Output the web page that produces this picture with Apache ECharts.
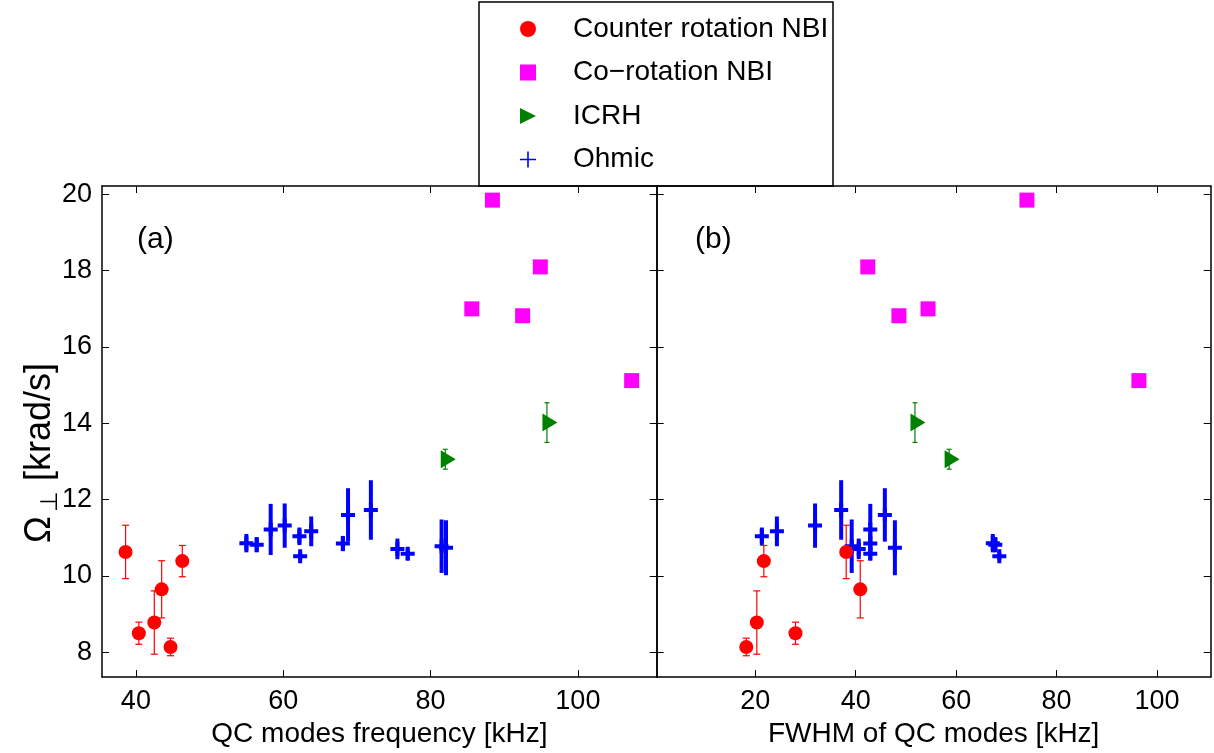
<!DOCTYPE html>
<html>
<head>
<meta charset="utf-8">
<script src="https://cdn.jsdelivr.net/npm/echarts@6/dist/echarts.min.js"></script>
<style>
  html, body { margin: 0; padding: 0; background: #fff; }
  #main { width: 1214px; height: 753px; }
</style>
</head>
<body>
<div id="main"></div>
<script>
// data
// counter rotation NBI
let ctrFreq = [38.6, 40.4, 42.5, 43.5, 44.7, 46.3]
let ctrFwhm = [38.1, 28.0, 20.3, 40.9, 18.2, 21.7]
let ctrOmega = [10.63, 8.50, 8.78, 9.65, 8.14, 10.39]
let ctrErr = [0.70, 0.29, 0.83, 0.75, 0.23, 0.41]
// co-rotation NBI
let coFreq = [88.4, 94.9, 85.6, 92.5, 107.3]
let coFwhm = [74.1, 42.4, 54.4, 48.6, 96.4]
let coOmega = [19.85, 18.10, 17.00, 16.82, 15.12]
// ICRH
let icrhFreq = [82.0, 95.8]
let icrhFwhm = [58.6, 51.8]
let icrhOmega = [13.06, 14.02]
let icrhErr = [0.26, 0.52]
// Ohmic
let ohmFreq = [55.0, 56.4, 58.3, 60.2, 62.2, 62.3, 63.8, 68.1, 68.8, 71.9, 75.5, 76.9, 81.5, 82.1]
let ohmFwhm = [67.3, 67.8, 42.9, 31.9, 21.3, 68.6, 24.3, 42.9, 45.8, 37.1, 40.6, 42.9, 39.2, 47.8]
let ohmOmega = [10.86, 10.82, 11.22, 11.32, 11.04, 10.52, 11.17, 10.85, 11.60, 11.73, 10.71, 10.58, 10.78, 10.74]
let ohmErr = [0.24, 0.20, 0.67, 0.58, 0.23, 0.10, 0.39, 0.20, 0.70, 0.78, 0.27, 0.16, 0.70, 0.72]

let freqTicks = [40, 60, 80, 100]
let fwhmTicks = [20, 40, 60, 80, 100]
let omegaTicks = [8, 10, 12, 14, 16, 18, 20]

const FONT = 'Liberation Sans'
const RED = '#ff0000', MAG = '#ff00ff', GRN = '#008000', BLU = '#0000ff'
const PLUS_THICK = 'path://M5,0H9V5H14V9H9V14H5V9H0V5H5Z'
const PLUS_THIN = 'path://M6.3,0H7.7V6.3H14V7.7H7.7V14H6.3V7.7H0V6.3H6.3Z'
const TRI = 'path://M0,0L1,0.5L0,1Z'
const SQ = 'path://M0,0H10V10H0Z'

function pts(xs, ys) { return xs.map((x, i) => [x, ys[i]]) }
function errPts(xs, ys, es) { return xs.map((x, i) => [x, ys[i], es[i]]) }

function errBars(color, lw, cap) {
  return function (params, api) {
    let x = api.value(0), y = api.value(1), e = api.value(2)
    let p1 = api.coord([x, y + e]), p2 = api.coord([x, y - e])
    let st = { stroke: color, lineWidth: lw }
    let ch = [{ type: 'line', shape: { x1: p1[0], y1: p1[1], x2: p2[0], y2: p2[1] }, style: st }]
    if (cap) {
      ch.push({ type: 'line', shape: { x1: p1[0] - cap, y1: p1[1], x2: p1[0] + cap, y2: p1[1] }, style: st })
      ch.push({ type: 'line', shape: { x1: p2[0] - cap, y1: p2[1], x2: p2[0] + cap, y2: p2[1] }, style: st })
    }
    return { type: 'group', children: ch }
  }
}

function xAx(grid, min, max, ticks, pos, name) {
  let lab = pos === 'bottom'
  return {
    type: 'value', gridIndex: grid, position: pos, min: min, max: max,
    name: lab ? name : '', nameLocation: 'middle', nameGap: 42,
    nameTextStyle: { fontFamily: FONT, fontSize: 28, color: '#000' },
    axisLine: { show: true, onZero: false, lineStyle: { color: '#000', width: 1.5 } },
    axisTick: { show: true, inside: true, length: 7, customValues: ticks, lineStyle: { color: '#000', width: 1 } },
    axisLabel: { show: lab, customValues: ticks, margin: 11, fontFamily: FONT, fontSize: 27, color: '#000' },
    splitLine: { show: false }
  }
}
function yAx(grid, pos, label) {
  return {
    type: 'value', gridIndex: grid, position: pos, min: 7.35, max: 20.22,
    axisLine: { show: true, onZero: false, lineStyle: { color: '#000', width: 1.5 } },
    axisTick: { show: true, inside: true, length: 7, customValues: omegaTicks, lineStyle: { color: '#000', width: 1 } },
    axisLabel: { show: label, customValues: omegaTicks, margin: 10, fontFamily: FONT, fontSize: 27, color: '#000' },
    splitLine: { show: false }
  }
}

function panelSeries(xi, yi, ctrX, coX, icrhX, ohmX) {
  return [
    { type: 'custom', xAxisIndex: xi, yAxisIndex: yi, renderItem: errBars(BLU, 4, 0),
      data: errPts(ohmX, ohmOmega, ohmErr), encode: { x: 0, y: 1 }, silent: true, z: 2 },
    { type: 'custom', xAxisIndex: xi, yAxisIndex: yi, renderItem: errBars(RED, 1.2, 3.5),
      data: errPts(ctrX, ctrOmega, ctrErr), encode: { x: 0, y: 1 }, silent: true, z: 2 },
    { type: 'custom', xAxisIndex: xi, yAxisIndex: yi, renderItem: errBars(GRN, 1.2, 2.5),
      data: errPts(icrhX, icrhOmega, icrhErr), encode: { x: 0, y: 1 }, silent: true, z: 2 },
    { name: 'Ohmic', type: 'scatter', xAxisIndex: xi, yAxisIndex: yi, symbol: PLUS_THICK, symbolSize: 14,
      itemStyle: { color: BLU, opacity: 1 }, data: pts(ohmX, ohmOmega), z: 3 },
    { name: 'Counter rotation NBI', type: 'scatter', xAxisIndex: xi, yAxisIndex: yi, symbol: 'circle', symbolSize: 14,
      itemStyle: { color: RED, opacity: 1 }, data: pts(ctrX, ctrOmega), z: 4 },
    { name: 'Co\u2212rotation NBI', type: 'scatter', xAxisIndex: xi, yAxisIndex: yi, symbol: SQ, symbolSize: 15,
      itemStyle: { color: MAG, opacity: 1 }, data: pts(coX, coOmega), z: 4 },
    { name: 'ICRH', type: 'scatter', xAxisIndex: xi, yAxisIndex: yi, symbol: TRI, symbolSize: [15, 18],
      symbolOffset: [3, 0],
      itemStyle: { color: GRN, opacity: 1 }, data: pts(icrhX, icrhOmega), z: 4 }
  ]
}

let myChart = echarts.init(document.getElementById('main'), null, { renderer: 'canvas' })

let options = {
  animation: false,
  backgroundColor: '#fff',
  textStyle: { fontFamily: FONT },
  grid: [
    { left: 102, top: 186, width: 554.7, height: 493 },
    { left: 656.7, top: 186, width: 554, height: 493 }
  ],
  xAxis: [
    xAx(0, 35.4, 110.7, freqTicks, 'bottom', 'QC modes frequency [kHz]'),
    xAx(0, 35.4, 110.7, freqTicks, 'top'),
    xAx(1, 0.36, 110.7, fwhmTicks, 'bottom', 'FWHM of QC modes [kHz]'),
    xAx(1, 0.36, 110.7, fwhmTicks, 'top')
  ],
  yAxis: [
    yAx(0, 'left', true),
    yAx(0, 'right', false),
    yAx(1, 'left', false),
    yAx(1, 'right', false)
  ],
  legend: {
    orient: 'vertical', left: 520, top: 14, padding: 0,
    itemWidth: 16, itemHeight: 16, itemGap: 13.5, symbolKeepAspect: true,
    textStyle: { fontFamily: FONT, fontSize: 28, color: '#000', lineHeight: 30, padding: [0, 0, 0, 32] },
    selectedMode: false,
    data: [
      { name: 'Counter rotation NBI', icon: 'circle' },
      { name: 'Co\u2212rotation NBI', icon: SQ },
      { name: 'ICRH', icon: TRI },
      { name: 'Ohmic', icon: PLUS_THIN }
    ]
  },
  graphic: [
    { type: 'rect', shape: { x: 479, y: 2, width: 354, height: 184 }, style: { fill: 'rgba(0,0,0,0)', stroke: '#000', lineWidth: 1.5 }, z: 10 },
    { type: 'text', left: 137, top: 225, style: { text: '(a)', fontFamily: FONT, fontSize: 30, fill: '#000' }, z: 10 },
    { type: 'text', left: 695, top: 225, style: { text: '(b)', fontFamily: FONT, fontSize: 30, fill: '#000' }, z: 10 },
    {
      type: 'text', x: 40, y: 453, rotation: Math.PI / 2, z: 10,
      style: {
        text: '{o|\u03A9}{s|\u22A5}{t| [krad/s]}',
        align: 'center', verticalAlign: 'middle',
        rich: {
          o: { fontFamily: FONT, fontSize: 36, fill: '#000', lineHeight: 44, verticalAlign: 'middle', padding: [0, 4, 0, 0] },
          s: { fontFamily: FONT, fontSize: 24, fill: '#000', lineHeight: 44, verticalAlign: 'bottom', padding: [14, 0, 0, 0] },
          t: { fontFamily: FONT, fontSize: 36, fill: '#000', lineHeight: 44, verticalAlign: 'middle' }
        }
      }
    }
  ],
  series: [].concat(
    panelSeries(0, 0, ctrFreq, coFreq, icrhFreq, ohmFreq),
    panelSeries(2, 2, ctrFwhm, coFwhm, icrhFwhm, ohmFwhm)
  )
}

myChart.setOption(options)
</script>
</body>
</html>
